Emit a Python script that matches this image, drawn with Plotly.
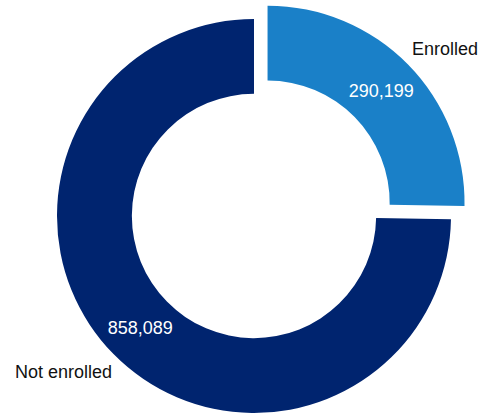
import math
import plotly.graph_objects as go

# Enrollment counts
labels = ["Enrolled", "Not enrolled"]
counts = [290199, 858089]
colors = ["#1a80c8", "#00246f"]

W, H = 481, 415
CX, CY, R = 254, 216, 197      # ring centre / outer radius in px
PULL_PX = 19                    # offset of the exploded slice
HOLE = 0.62
FONT = "Liberation Sans, Arial, sans-serif"
CLEAR = "rgba(0,0,0,0)"

# slice mid-angles, clockwise from 12 o'clock
total = sum(counts)
mids = []
acc = 0.0
for c in counts:
    mids.append((acc + c / 2) / total * 2 * math.pi)
    acc += c

# the exploded slice moves along its own mid-angle
ox, oy = PULL_PX * math.sin(mids[0]), -PULL_PX * math.cos(mids[0])
centres = [(CX + ox, CY + oy), (CX, CY)]


def domain(cx, cy):
    return dict(x=[(cx - R) / W, (cx + R) / W],
                y=[1 - (cy + R) / H, 1 - (cy - R) / H])


def ring(idx):
    cols = [CLEAR, CLEAR]
    pos = ["none", "none"]
    cols[idx] = colors[idx]
    pos[idx] = "inside"
    font = dict(family=FONT, size=18, color="white")
    return go.Pie(labels=labels, values=counts, hole=HOLE, sort=False,
                  direction="clockwise", rotation=0, showlegend=False,
                  hoverinfo="skip", insidetextorientation="horizontal",
                  domain=domain(*centres[idx]),
                  marker=dict(colors=cols, line=dict(width=0)),
                  textposition=pos, texttemplate="%{value:,}",
                  textfont=font, insidetextfont=font)


fig = go.Figure([ring(1), ring(0)])

# category names just outside each slice at its mid-angle
for i, name in enumerate(labels):
    cx, cy = centres[i]
    px = cx + R * math.sin(mids[i])
    py = cy - R * math.cos(mids[i])
    right = math.sin(mids[i]) >= 0
    upper = math.cos(mids[i]) >= 0
    px += 2 if right else 0
    py += -16 if upper else 18
    fig.add_annotation(x=px / W, y=1 - py / H, xref="paper", yref="paper",
                       text=name, showarrow=False,
                       xanchor="left" if right else "right", yanchor="middle",
                       font=dict(family=FONT, size=18, color="#111111"))

fig.update_layout(width=W, height=H, margin=dict(l=0, r=0, t=0, b=0),
                  paper_bgcolor="white", plot_bgcolor="white",
                  font=dict(family=FONT))

fig.write_html("out.html")
